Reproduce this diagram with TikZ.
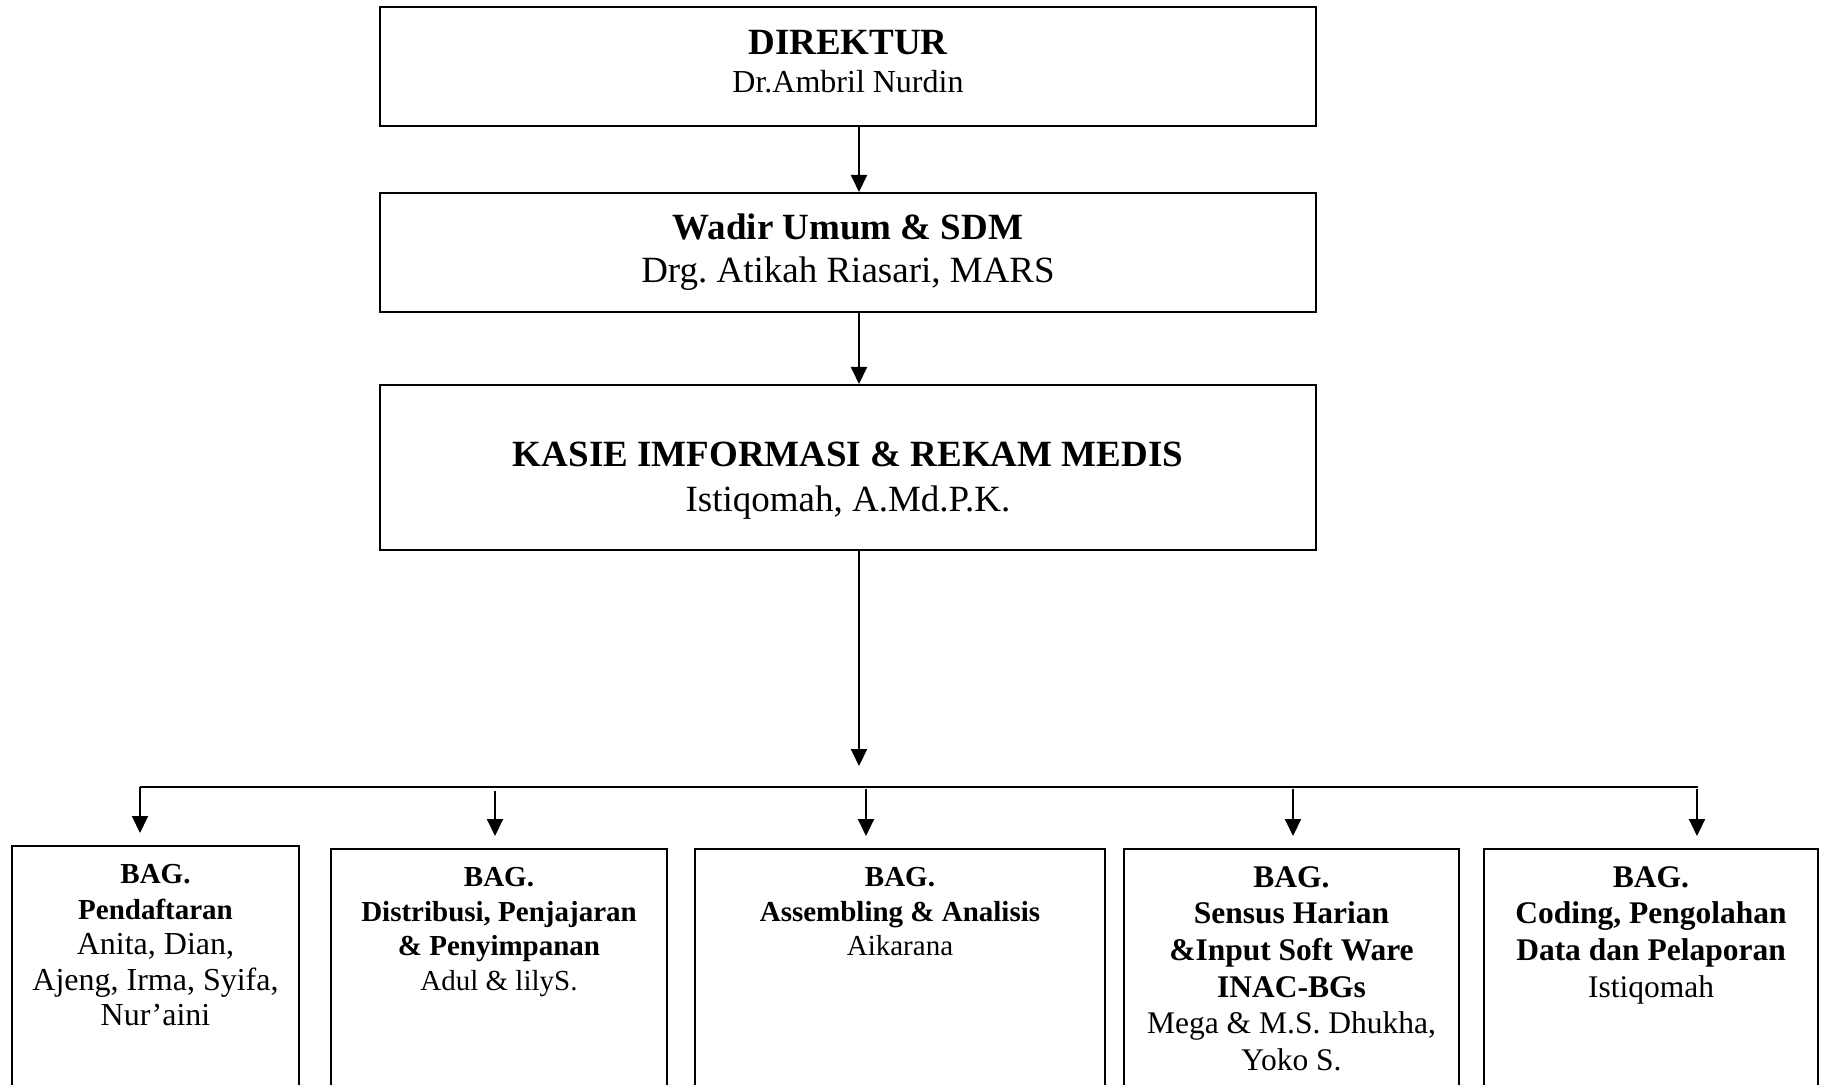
\documentclass[tikz,border=0pt]{standalone}
\usepackage{fontspec}
\setmainfont{Liberation Serif}
\usetikzlibrary{arrows.meta, positioning}
\frenchspacing

\begin{document}
\begin{tikzpicture}[
    x=0.5pt, y=-0.5pt,
    box/.style={rectangle, draw=black, line width=1pt, inner sep=0pt},
    topbox/.style={box, minimum width=468pt, align=center},
    bagbox/.style={box, minimum height=130pt, anchor=north},
    bagtext/.style={anchor=north, align=center, inner sep=0pt},
    link/.style={-{Triangle[length=8.5pt, width=8pt]}, line width=1pt}
]
    \useasboundingbox (0,0) rectangle (1826,1085);

    % Direktur
    \node[topbox, minimum height=59.5pt, font=\fontsize{16}{19}\selectfont] (dir) at (848,66.5)
        {{\fontsize{18.5}{19}\selectfont\bfseries DIREKTUR}\\ Dr.Ambril Nurdin\rule[-5pt]{0pt}{5pt}};

    % Wadir
    \node[topbox, minimum height=59.5pt, font=\fontsize{18.5}{21.5}\selectfont] (wadir) at (848,252.5)
        {\textbf{Wadir Umum \& SDM}\\ Drg. Atikah Riasari, MARS};

    % Kasie
    \node[topbox, minimum height=82.5pt, font=\fontsize{18.5}{22.5}\selectfont] (kasie) at (848,467.5)
        {\rule{0pt}{25pt}\textbf{KASIE IMFORMASI \& REKAM MEDIS}\\ Istiqomah, A.Md.P.K.};

    % Bagian
    \node[bagbox, minimum width=143.5pt] (pend) at (155.5,845) {};
    \node[bagbox, minimum width=168pt] (dist) at (499,848) {};
    \node[bagbox, minimum width=205pt] (asm) at (900,848) {};
    \node[bagbox, minimum width=167.5pt] (sens) at (1291.5,848) {};
    \node[bagbox, minimum width=167pt] (cod) at (1651,848) {};

    \node[bagtext, font=\fontsize{16}{17.75}\selectfont] (pendtxt) at ([yshift=-9.5pt]pend.north)
        {{\fontsize{14.5}{17.75}\selectfont\bfseries BAG.}\\
         {\fontsize{14.5}{17.75}\selectfont\bfseries Pendaftaran}\\
         Anita, Dian,\\ Ajeng, Irma, Syifa,\\ Nur’aini};
    \node[bagtext, font=\fontsize{14.5}{17.3}\selectfont] (disttxt) at ([yshift=-9.5pt]dist.north)
        {\textbf{BAG.}\\ \textbf{Distribusi, Penjajaran}\\ \textbf{\& Penyimpanan}\\ Adul \& lilyS.};
    \node[bagtext, font=\fontsize{14.5}{17.3}\selectfont] (asmtxt) at ([yshift=-9.5pt]asm.north)
        {\textbf{BAG.}\\ \textbf{Assembling \& Analisis}\\ Aikarana};
    \node[bagtext, font=\fontsize{15.75}{18.3}\selectfont] (senstxt) at ([yshift=-9pt]sens.north)
        {\textbf{BAG.}\\ \textbf{Sensus Harian}\\ \textbf{\&Input Soft Ware}\\ \textbf{INAC-BGs}\\
         Mega \& M.S. Dhukha,\\ Yoko S.};
    \node[bagtext, font=\fontsize{15.75}{18.3}\selectfont] (codtxt) at ([yshift=-9pt]cod.north)
        {\textbf{BAG.}\\ \textbf{Coding, Pengolahan}\\ \textbf{Data dan Pelaporan}\\ Istiqomah};

    % Connections
    \draw[link] ([xshift=5.5pt]dir.south) -- ([xshift=5.5pt]wadir.north);
    \draw[link] ([xshift=5.5pt]wadir.south) -- ([xshift=5.5pt]kasie.north);
    \coordinate (hub) at (859,766);
    \draw[link] ([xshift=5.5pt]kasie.south) -- (hub);

    % Bus line
    \coordinate (b1) at (140,787);
    \coordinate (b2) at (495,791);
    \coordinate (b3) at (866,789);
    \coordinate (b4) at (1293,789);
    \coordinate (b5) at (1697,789);
    \draw[line width=1pt] (b1) -- (1698,787);
    \foreach \c/\n in {b1/pend, b2/dist, b3/asm, b4/sens, b5/cod}
        \draw[link, shorten >=6pt] (\c) -- (\c |- \n.north);
\end{tikzpicture}
\end{document}
